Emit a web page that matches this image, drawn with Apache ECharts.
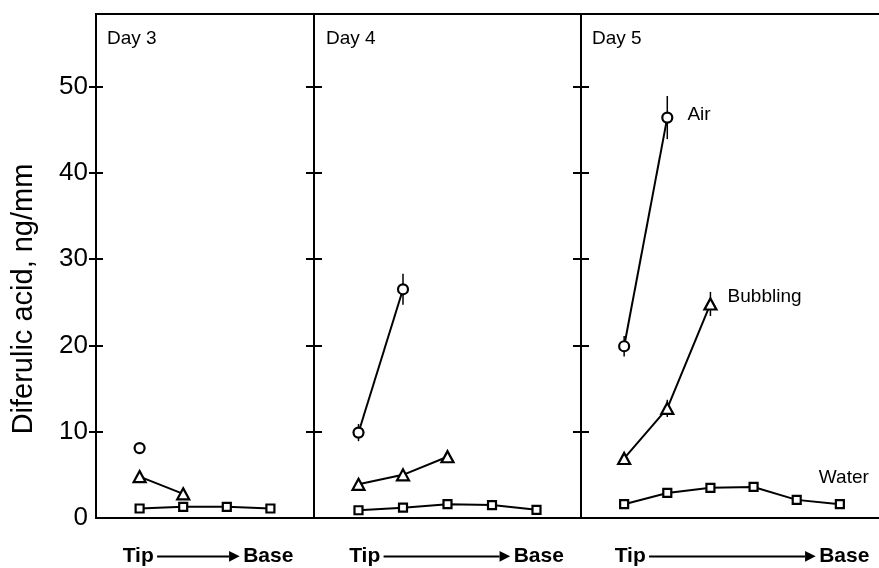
<!DOCTYPE html>
<html>
<head>
<meta charset="utf-8">
<script src="https://cdn.jsdelivr.net/npm/echarts@6/dist/echarts.min.js"></script>
<style>html,body{margin:0;padding:0;background:#fff;}#c{width:879px;height:568px;}</style>
</head>
<body>
<div id="c"></div>
<script>
// ---- data ----
const dayLabels = ['Day 3', 'Day 4', 'Day 5'];
const positionCounts = [4, 5, 6];          // sampling positions, tip -> base
const yTickValues = [0, 10, 20, 30, 40, 50];
const seriesNames = ['Air', 'Bubbling', 'Water'];

const airDay3 = [8.1];
const airDay4 = [9.9, 26.5];
const airDay5 = [19.9, 46.4];
const airErrDay3 = [0];
const airErrDay4 = [1.0, 1.8];
const airErrDay5 = [1.2, 2.5];

const bubblingDay3 = [4.8, 2.8];
const bubblingDay4 = [3.9, 5.0, 7.1];
const bubblingDay5 = [6.9, 12.7, 24.8];
const bubblingErrDay3 = [0, 0];
const bubblingErrDay4 = [0.4, 0.6, 0.5];
const bubblingErrDay5 = [0.7, 1.0, 1.4];

const waterDay3 = [1.1, 1.3, 1.3, 1.1];
const waterDay4 = [0.9, 1.2, 1.6, 1.5, 0.95];
const waterDay5 = [1.6, 2.9, 3.5, 3.6, 2.1, 1.6];

// ---- build ----
const air = [airDay3, airDay4, airDay5];
const airErr = [airErrDay3, airErrDay4, airErrDay5];
const bub = [bubblingDay3, bubblingDay4, bubblingDay5];
const bubErr = [bubblingErrDay3, bubblingErrDay4, bubblingErrDay5];
const water = [waterDay3, waterDay4, waterDay5];

const FONT = 'Liberation Sans, Arial, Helvetica, sans-serif';
const YMAX = 58.4;

const grids = [
  {left: 96, top: 14, width: 218, height: 504},
  {left: 314, top: 14, width: 267, height: 504},
  {left: 581, top: 14, width: 302, height: 504}
].map(g => Object.assign(g, {show: true, borderColor: '#000', borderWidth: 2, backgroundColor: 'transparent', outerBoundsMode: 'none', containLabel: false}));

const arrowLens = [72, 116, 156];
const nameShift = [3, 9, 10];

const xAxes = positionCounts.map((n, i) => ({
  type: 'value', gridIndex: i, min: 0, max: n + 1, position: 'bottom',
  axisLine: {show: true, lineStyle: {color: '#000', width: 2}},
  axisTick: {show: false}, axisLabel: {show: false}, splitLine: {show: false},
  name: '{t|Tip} {l| }{h|▶} {t|Base}',
  nameLocation: 'middle', nameGap: 28,
  nameTextStyle: {
    padding: [0, 0, 0, nameShift[i] * 2],
    rich: {
      t: {fontSize: 21, fontWeight: 'bold', fontFamily: FONT, color: '#000'},
      l: {width: arrowLens[i], height: 2, backgroundColor: '#000', verticalAlign: 'middle'},
      h: {fontSize: 14, color: '#000', fontFamily: 'DejaVu Sans', verticalAlign: 'middle'}
    }
  }
}));

const tickHalf = [7, 8, 8];
function yAx(gridIndex, labels) {
  const h = tickHalf[gridIndex];
  return {
    type: 'value', gridIndex: gridIndex, min: 0, max: YMAX, interval: 10, position: 'left',
    offset: -h,
    axisLine: {show: false, onZero: false},
    axisTick: {show: true, inside: false, length: 2 * h, lineStyle: {color: '#000', width: 2},
               customValues: yTickValues.filter(v => v > 0)},
    splitLine: {show: false},
    axisLabel: labels ? {
      show: true, margin: 8 + h, fontSize: 26, color: '#000', fontFamily: FONT,
      customValues: yTickValues
    } : {show: false}
  };
}
const yAxes = [
  Object.assign(yAx(0, true), {
    name: 'Diferulic acid, ng/mm', nameLocation: 'middle', nameGap: 65,
    nameTextStyle: {fontSize: 29, color: '#000', fontFamily: FONT, padding: [0, 66, 0, 0]}
  }),
  yAx(1, false),
  yAx(2, false)
];
const yIdx = [0, 1, 2];

const markerStyle = {color: '#fff', borderColor: '#000', borderWidth: 2.2};
const series = [];
const labelCfg = {
  Air: {position: 'right', distance: 14, offset: [0, -3]},
  Bubbling: {position: 'right', distance: 10, offset: [0, -7]},
  Water: {position: 'top', distance: 12, offset: [4, 0]}
};
function lineSeries(name, vals, d, symbol, size) {
  return {
    type: 'line', name: name, xAxisIndex: d, yAxisIndex: yIdx[d], z: 3,
    symbol: symbol, symbolSize: size, showSymbol: true, showAllSymbol: true,
    lineStyle: {color: '#000', width: 2}, itemStyle: markerStyle,
    animation: false,
    data: vals.map((v, i) => {
      const item = {value: [i + 1, v]};
      if (d === 2 && i === vals.length - 1) {
        item.label = Object.assign({show: true, formatter: name, fontSize: 19, color: '#000', fontFamily: FONT}, labelCfg[name]);
      }
      return item;
    })
  };
}
function errSeries(vals, errs, d) {
  return {
    type: 'custom', xAxisIndex: d, yAxisIndex: yIdx[d], z: 1, animation: false,
    data: vals.map((v, i) => [i + 1, v, errs[i]]),
    renderItem: (params, api) => {
      const x = api.value(0), y = api.value(1), e = api.value(2);
      if (!e) return null;
      const p1 = api.coord([x, y - e]), p2 = api.coord([x, y + e]);
      return {type: 'line', shape: {x1: p1[0], y1: p1[1], x2: p2[0], y2: p2[1]}, style: {stroke: '#000', lineWidth: 1.5}};
    }
  };
}
for (let d = 0; d < 3; d++) {
  series.push(errSeries(air[d], airErr[d], d));
  series.push(errSeries(bub[d], bubErr[d], d));
  series.push(lineSeries(seriesNames[0], air[d], d, 'circle', 10));
  series.push(lineSeries(seriesNames[1], bub[d], d, 'triangle', [12, 11]));
  series.push(lineSeries(seriesNames[2], water[d], d, 'rect', 8));
}

const chart = echarts.init(document.getElementById('c'), null, {renderer: 'canvas'});
chart.setOption({
  backgroundColor: '#fff',
  animation: false,
  title: dayLabels.map((t, i) => ({
    text: t, left: [107, 326, 592][i], top: 29, padding: 0,
    textStyle: {fontSize: 19, fontWeight: 'normal', color: '#000', fontFamily: FONT}
  })),
  grid: grids,
  xAxis: xAxes,
  yAxis: yAxes,
  series: series
});
</script>
</body>
</html>
